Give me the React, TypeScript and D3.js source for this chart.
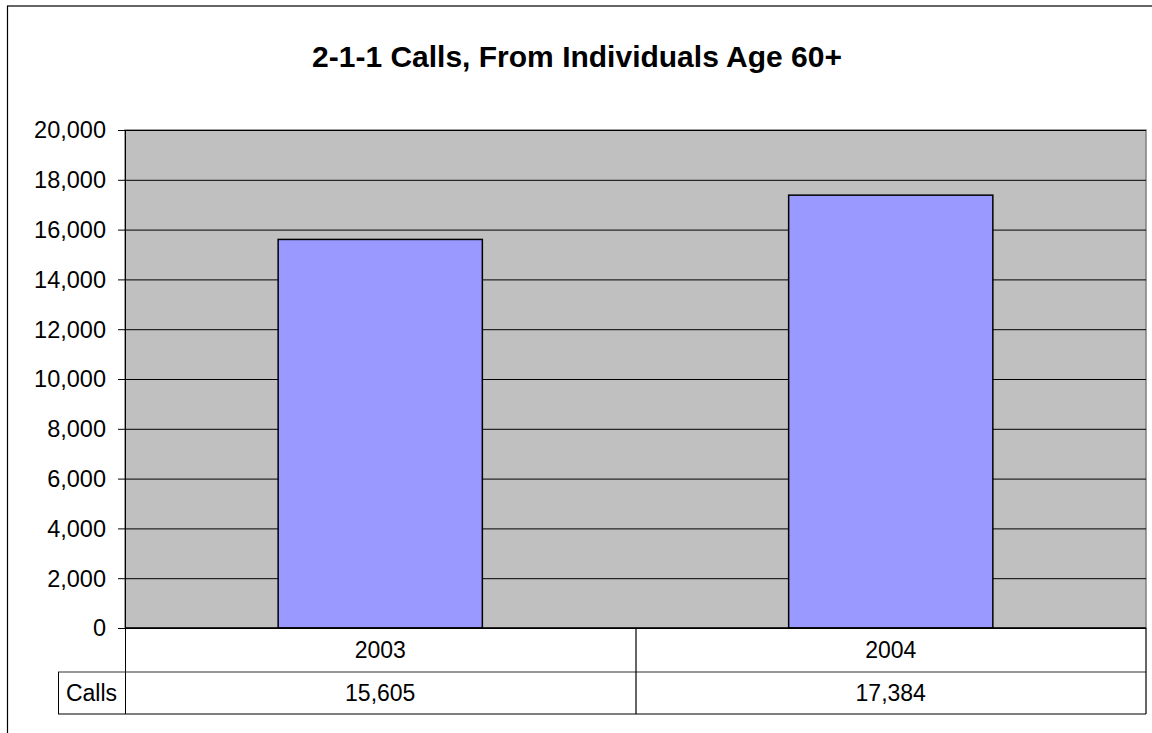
import React from "react";
import * as d3 from "d3";

const title = "2-1-1 Calls, From Individuals Age 60+";
const categories = ["2003", "2004"];
const seriesName = "Calls";
const values = [15605, 17384];
const yTicks = [0, 2000, 4000, 6000, 8000, 10000, 12000, 14000, 16000, 18000, 20000];

const W = 1152;
const H = 733;
const plot = { left: 125, right: 1146, top: 130, bottom: 628 };
const row1Bottom = 672;
const row2Bottom = 714;
const labelCellLeft = 58;
const FONT = "'Liberation Sans', Arial, sans-serif";

export default function App() {
  const x = d3
    .scaleBand<string>()
    .domain(categories)
    .range([plot.left, plot.right])
    .paddingInner(0)
    .paddingOuter(0);
  const y = d3.scaleLinear().domain([0, 20000]).range([plot.bottom, plot.top]);
  const fmt = d3.format(",");
  const barW = x.bandwidth() / 2.5;

  return (
    <svg
      width={W}
      height={H}
      style={{ position: "absolute", left: 0, top: 0, background: "#fff" }}
      fontFamily={FONT}
    >
      {/* outer frame */}
      <rect x={7.5} y={6} width={W + 10} height={H + 10} fill="#fff" stroke="#000" strokeWidth={1.2} />
      <text x={577} y={67} textAnchor="middle" fontSize={30} fontWeight="bold" fill="#000">
        {title}
      </text>

      {/* plot area */}
      <rect
        x={plot.left}
        y={plot.top}
        width={plot.right - plot.left}
        height={plot.bottom - plot.top}
        fill="#C0C0C0"
        stroke="#808080"
        strokeWidth={1.5}
      />
      {yTicks.map((t) => (
        <g key={t}>
          <line x1={plot.left} x2={plot.right} y1={y(t) + 0.5} y2={y(t) + 0.5} stroke="#000" strokeWidth={1} />
          <line x1={118} x2={plot.left} y1={y(t) + 0.5} y2={y(t) + 0.5} stroke="#000" strokeWidth={1} />
          <text x={106} y={y(t)} dy="0.36em" textAnchor="end" fontSize={23.5} fill="#000">
            {fmt(t)}
          </text>
        </g>
      ))}

      {/* bars */}
      {values.map((v, i) => {
        const cx = (x(categories[i]) as number) + x.bandwidth() / 2;
        return (
          <rect
            key={i}
            x={cx - barW / 2}
            y={y(v)}
            width={barW}
            height={y(0) - y(v)}
            fill="#9999FF"
            stroke="#000"
            strokeWidth={1.5}
          />
        );
      })}

      {/* axis line */}
      <line x1={plot.left + 0.5} x2={plot.left + 0.5} y1={plot.top} y2={row2Bottom} stroke="#000" strokeWidth={1} />
      <line x1={plot.left} x2={plot.right} y1={plot.bottom} y2={plot.bottom} stroke="#000" strokeWidth={1.5} />

      {/* data table */}
      <line x1={labelCellLeft} x2={plot.right} y1={row1Bottom} y2={row1Bottom} stroke="#333" strokeWidth={1.2} />
      <line x1={labelCellLeft} x2={plot.right} y1={row2Bottom} y2={row2Bottom} stroke="#000" strokeWidth={1.2} />
      <line x1={labelCellLeft + 0.5} x2={labelCellLeft + 0.5} y1={row1Bottom} y2={row2Bottom} stroke="#000" strokeWidth={1} />
      <line x1={plot.right} x2={plot.right} y1={plot.bottom} y2={row2Bottom} stroke="#000" strokeWidth={1.2} />
      {categories.slice(1).map((c) => (
        <line
          key={c}
          x1={(x(c) as number) + 0.5}
          x2={(x(c) as number) + 0.5}
          y1={plot.bottom}
          y2={row2Bottom}
          stroke="#000"
          strokeWidth={1.2}
        />
      ))}
      {categories.map((c, i) => {
        const cx = (x(c) as number) + x.bandwidth() / 2;
        return (
          <g key={c}>
            <text x={cx} y={(plot.bottom + row1Bottom) / 2} dy="0.36em" textAnchor="middle" fontSize={23} fill="#000">
              {c}
            </text>
            <text x={cx} y={(row1Bottom + row2Bottom) / 2} dy="0.36em" textAnchor="middle" fontSize={23} fill="#000">
              {fmt(values[i])}
            </text>
          </g>
        );
      })}
      <text
        x={(labelCellLeft + plot.left) / 2}
        y={(row1Bottom + row2Bottom) / 2}
        dy="0.36em"
        textAnchor="middle"
        fontSize={23}
        fill="#000"
      >
        {seriesName}
      </text>
    </svg>
  );
}
